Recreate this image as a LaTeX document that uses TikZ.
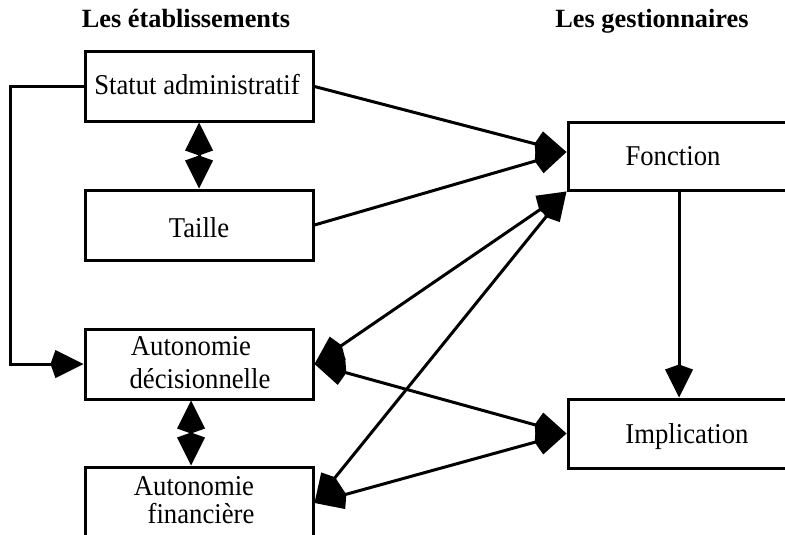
\documentclass[tikz,border=0pt]{standalone}
\usepackage{fontspec}
\setmainfont{Liberation Serif}
\newfontfamily\bodyfont{Liberation Serif}[FakeStretch=0.93]
\usetikzlibrary{arrows.meta,calc}
\begin{document}
\begin{tikzpicture}[x=1pt,y=-1pt,
  >={Kite[length=33pt,width=28pt,inset'=5pt]},
  box/.style={draw,line width=3pt,rectangle,inner sep=0pt,minimum width=228pt,minimum height=70pt},
  rbox/.style={box,minimum width=222pt},
  txt/.style={inner sep=0pt,font=\bodyfont\fontsize{28.7}{31}\selectfont},
  ttl/.style={inner sep=0pt,anchor=base,font=\bfseries\fontsize{26.3}{30}\selectfont},
  conn/.style={line width=3pt}]
\useasboundingbox (0,0) rectangle (785,535);
\clip (0,0) rectangle (785,535);
% titles
\node[ttl] (t1) at (186,28) {Les établissements};
\node[ttl] (t2) at (652,28) {Les gestionnaires};
% boxes
\node[box,minimum height=69pt] (statut) at (199,86.5) {};
\node[box] (taille) at (199,225) {};
\node[box] (decis) at (199,364) {};
\node[box,minimum height=72pt] (fin) at (199,503) {};
\node[rbox,minimum height=68pt] (fonc) at (679,156) {};
\node[rbox,minimum height=69pt] (impl) at (679,433.5) {};
% texts
\node[txt,anchor=base] (statutT) at (197,95) {Statut administratif};
\node[txt,anchor=base] (tailleT) at (199,237) {Taille};
\node[txt,anchor=base] (decisT1) at (191,355) {Autonomie};
\node[txt,anchor=base] (decisT2) at (200,388) {décisionnelle};
\node[txt,anchor=base] (finT1) at (194,495) {Autonomie};
\node[txt,anchor=base] (finT2) at (201,523) {financière};
\node[txt,anchor=base] (foncT) at (673,165) {Fonction};
\node[txt,anchor=base] (implT) at (687,443) {Implication};
% connection points
\coordinate (fonIn) at ($(fonc.west)+(0,-4)$);
\coordinate (foncB) at ($(fonc.south)$);
\coordinate (implT0) at ($(impl.north)$);
% connectors
\draw[conn,->] (statut.east) -- (fonIn);
\draw[conn,->] (taille.east) -- (fonIn);
\draw[conn,<->] (statut.south) -- (taille.north);
\draw[conn,<->] ($(decis.south)+(-8,0)$) -- ($(fin.north)+(-8,0)$);
\draw[conn,<->] (decis.east) -- (fonc.south west);
\draw[conn,<->] (fin.east) -- (fonc.south west);
\draw[conn,<->] (decis.east) -- (impl.west);
\draw[conn,<->] (fin.east) -- (impl.west);
\draw[conn,->] (foncB) -- (implT0);
\draw[conn,->] (statut.west) -- ++(-73,0) |- (decis.west);
\end{tikzpicture}
\end{document}
